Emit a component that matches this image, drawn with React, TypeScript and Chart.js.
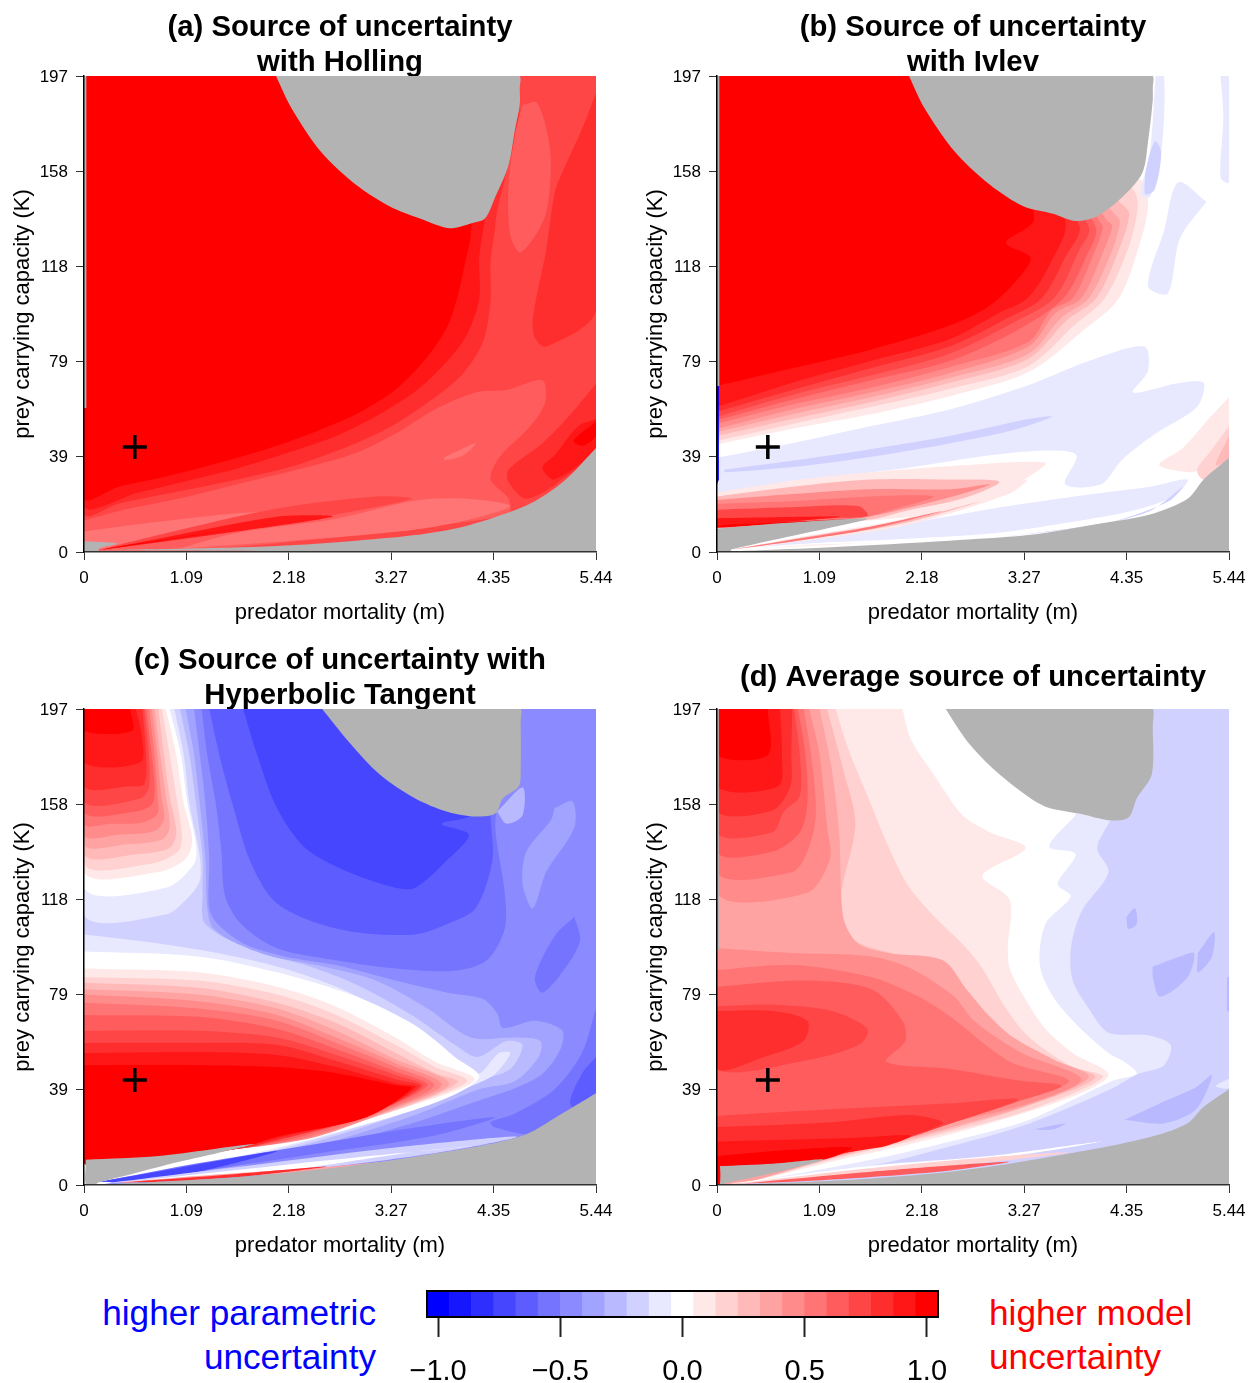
import React, { useEffect, useRef } from "react";
import { Chart, registerables } from "chart.js";

Chart.register(...registerables);

const FONT = "'Liberation Sans', Arial, sans-serif";
const GRAY = 99;
type Band = [number, number[]];

const xTickValues = [0, 1.088, 2.176, 3.264, 4.352, 5.44];
const xTickLabels = ["0", "1.09", "2.18", "3.27", "4.35", "5.44"];
const yTickValues = [0, 39.4, 78.8, 118.2, 157.6, 197];
const yTickLabels = ["0", "39", "79", "118", "158", "197"];
const scenario = { m: 0.54, K: 43.5 };
const colorbarLevels = [-11, -10, -9, -8, -7, -6, -5, -4, -3, -2, -1, 0, 1, 2, 3, 4, 5, 6, 7, 8, 9, 10, 11];
const colorbarTicks = [-1, -0.5, 0, 0.5, 1];

const holling: Band[] = [
  [8, [0, 197, 5.44, 197, 5.44, 0, 0, 0]],
  [7, [0, 13, 0.37, 17, 1, 22, 1.63, 28, 2.26, 34, 2.89, 41, 3.31, 49, 3.73, 59, 4.16, 66, 4.49, 67, 4.87, 71, 4.9, 62, 4.74, 52, 4.41, 39, 4.32, 30, 4.51, 22, 4.5, 15, 1, 0, 0, 0]],
  [6, [3.82, 39, 4.16, 45, 4.03, 40, 3.84, 38]],
  [9, [0, 197, 4.5, 197, 4.37, 135, 4.32, 120, 4.32, 104, 4.24, 87, 4.03, 74, 3.73, 64, 3.31, 53, 2.89, 45, 2.26, 36, 1.63, 30, 1, 25, 0.37, 20, 0, 16]],
  [10, [0, 197, 4.4, 197, 4.26, 138, 4.2, 122, 4.2, 105, 4.07, 90, 3.86, 79, 3.57, 68, 3.14, 57, 2.68, 48, 2.05, 39.6, 1.63, 34.6, 1.21, 30.5, 0.58, 24.6, 0, 19.6]],
  [11, [0, 197, 4.2, 197, 4.11, 131, 4.05, 120, 3.99, 109, 3.88, 95, 3.73, 85, 3.52, 75, 3.27, 66, 2.89, 57, 2.47, 50, 2.05, 44, 1.63, 39, 1.21, 34.6, 0.79, 30.5, 0.37, 27, 0, 22.5]],
  [9, [5.44, 190, 5.29, 175, 5.08, 157, 5, 148.6, 4.91, 125, 4.77, 97, 4.79, 88.7, 4.91, 85, 5.44, 100]],
  [7, [4.66, 185, 4.81, 186, 4.93, 172, 4.96, 158, 4.89, 138, 4.64, 124, 4.53, 131, 4.51, 151, 4.58, 173]],
  [9, [5.44, 69.6, 5.17, 57, 4.87, 45, 4.51, 34, 4.51, 29, 4.7, 22, 5.08, 30, 5.44, 43]],
  [10, [5.44, 55, 5.25, 52, 5, 40, 4.87, 35, 5, 30, 5.44, 43]],
  [11, [5.44, 54, 5.2, 46, 5.3, 44, 5.44, 48]],
  [6, [0, 8.5, 0.79, 12.5, 1.84, 16.3, 1.63, 11.3, 0.79, 5.5, 0.16, 0.8, 0, 1]],
  [6, [1, 1.3, 2.47, 5.5, 3.73, 10.5, 4.53, 18.8, 4.07, 22, 3.52, 21.3, 2.68, 13.8, 1.63, 8]],
  [8, [0.16, 0.8, 1.63, 8.5, 2.68, 15.5, 3.48, 22, 3.1, 23, 2.05, 18, 0.79, 7]],
  [10, [0.16, 0.8, 1.21, 6.3, 2.64, 14.6, 2.05, 14.6, 0.79, 5.5]],
  [11, [0.15, 0.8, 0.8, 4.5, 1.6, 9.5, 1, 6, 0.37, 2.3]],
  [GRAY, [2.04, 197, 2.2, 184, 2.51, 166, 2.89, 152, 3.25, 143, 3.57, 138, 3.88, 134, 4.11, 136, 4.26, 138, 4.37, 147, 4.51, 160, 4.58, 175, 4.63, 185, 4.63, 192, 4.63, 197, 4.5, 197, 2.2, 197]],
  [GRAY, [5.44, 43, 5.12, 30, 4.79, 21, 4.45, 15.5, 4.03, 10.5, 3.52, 7, 2.89, 4.7, 2.05, 2.5, 1, 1.3, 0.2, 0.7, 5.44, 0]],
  [GRAY, [0, 4.5, 0.36, 3.5, 0.16, 1.5, 0.15, 0, 0, 0]],
  [GRAY, [0, 197, 0.025, 197, 0.025, 59.6, 0, 59.6]],
];

const ivlev: Band[] = [
  [0, [0, 197, 5.44, 197, 5.44, 0, 0, 0]],
  [-1, [0, 39, 0.8, 45, 1.63, 52, 2.47, 59, 3.31, 69, 3.95, 79, 4.54, 85, 4.58, 75, 4.42, 66, 4.92, 70, 5.17, 70, 5.1, 60, 4.66, 49, 4.3, 38, 4.08, 28, 3.7, 28, 3.82, 40, 3.53, 42, 2.9, 40, 2.05, 35, 1, 30, 0, 25]],
  [-2, [0.08, 34, 1.21, 40, 2.47, 48, 3.31, 55, 3.56, 56, 3.1, 50, 2.05, 42, 1, 36, 0.08, 33]],
  [1, [0, 44.6, 0.8, 51, 1.63, 57, 2.47, 64.5, 3.31, 74.5, 3.9, 92, 4.27, 105, 4.5, 128.6, 4.58, 143.6, 4.53, 153, 3, 197, 0, 197]],
  [2, [0, 46, 0.8, 53, 1.63, 60, 2.47, 67.5, 3.31, 77, 3.8, 94, 4.12, 105, 4.38, 127, 4.47, 143, 4.42, 150, 3, 197, 0, 197]],
  [3, [0, 48, 0.8, 55, 1.63, 62, 2.47, 70, 3.31, 80, 3.72, 96, 4.03, 105, 4.28, 126, 4.38, 140, 4.3, 144, 3, 197, 0, 197]],
  [4, [0, 49.6, 0.8, 57, 1.63, 64, 2.47, 72, 3.31, 82, 3.66, 97, 3.95, 105, 4.2, 125, 4.28, 137, 4.22, 140, 3, 197, 0, 197]],
  [5, [0, 51, 0.8, 59, 1.63, 66, 2.47, 74, 3.31, 85, 3.6, 99, 3.87, 105, 4.1, 124, 4.2, 135, 4.15, 137, 3, 197, 0, 197]],
  [6, [0, 53, 0.8, 61, 1.63, 68, 2.47, 76.5, 3.31, 87, 3.55, 100, 3.78, 105, 4, 123, 4.1, 134, 4.08, 136, 3, 197, 0, 197]],
  [7, [0, 54.6, 0.8, 63, 1.63, 71, 2.47, 79, 3.2, 92, 3.68, 105, 3.92, 122, 4.02, 135, 3, 197, 0, 197]],
  [8, [0, 56, 0.8, 65, 1.63, 73, 2.47, 82, 3.15, 95, 3.58, 105, 3.85, 125, 3.95, 134.5, 3, 197, 0, 197]],
  [9, [0, 58, 0.8, 67, 1.63, 76, 2.47, 85, 3.1, 97, 3.45, 105, 3.7, 122, 3.85, 135, 3, 197, 0, 197]],
  [10, [0, 60, 0.8, 70, 1.63, 79, 2.47, 88, 3, 99, 3.3, 105, 3.55, 120, 3.7, 137, 3, 197, 0, 197]],
  [11, [0, 68.7, 0.8, 76, 1.63, 83.7, 2.47, 93.7, 2.9, 102, 3.24, 115, 3.33, 122, 3.07, 128, 3.37, 138, 3, 197, 0, 197]],
  [1, [0, 24.6, 0.8, 29.6, 1.63, 33, 2.47, 35.5, 3.49, 37, 3.31, 31, 2.9, 22, 2.31, 16, 1.63, 13, 0, 9.6]],
  [3, [0, 23, 0.8, 27, 1.63, 30, 2.47, 30, 3, 29, 2.6, 22, 2, 17, 1.63, 13.5, 0.5, 11, 0, 10]],
  [5, [0, 21.5, 0.8, 24, 1.63, 26, 2.5, 26, 2.9, 28, 2.6, 24, 2, 18, 1.5, 14, 0, 10.5]],
  [6, [0, 20, 0.8, 21, 1.63, 23, 2.3, 23, 1.9, 18, 1.5, 14, 0, 11]],
  [8, [0, 17.5, 0.8, 18.5, 1.5, 19, 1.6, 15, 1.2, 14, 0, 11]],
  [10, [0, 14, 0.8, 14.5, 1.3, 14.5, 0, 11]],
  [11, [0, 10, 0.6, 11.5, 1.4, 13.5, 0.5, 12, 0, 11]],
  [-1, [0.4, 2, 1.2, 7, 2.2, 13, 3.1, 19, 4, 24, 4.6, 27, 5, 30, 4.85, 23, 4.4, 17, 3.7, 12, 3, 8, 2, 5.5, 1.2, 4]],
  [1, [0.16, 1, 1, 7, 2, 14, 3, 26, 3.3, 30, 3.1, 24, 2, 11, 1, 5]],
  [3, [0.16, 1, 1, 6.6, 2, 13, 2.8, 21, 2, 12, 1, 5.5]],
  [6, [0.16, 1, 1, 6.3, 1.63, 10.5, 2.4, 17, 1.63, 9.5, 1, 5.5]],
  [1, [0.5, 1.5, 1.5, 3.5, 2.1, 4, 1, 3]],
  [-2, [3, 6, 4, 11, 4.6, 17, 4.95, 27, 4.8, 21, 4.2, 12.5, 3.5, 8.5]],
  [1, [5.44, 64, 5.2, 54, 4.95, 43, 4.7, 36, 5.05, 33, 5.2, 36, 5.44, 39]],
  [2, [5.44, 52, 5.25, 42, 5.1, 34, 5.17, 30, 5.44, 39]],
  [3, [5.44, 48, 5.3, 36, 5.44, 39]],
  [-1, [4.66, 197, 4.75, 197, 4.72, 165, 4.6, 147, 4.5, 148, 4.6, 165]],
  [-2, [4.55, 157, 4.6, 165, 4.66, 170, 4.72, 165, 4.65, 150, 4.55, 148]],
  [-1, [5.2, 145, 4.9, 153, 4.75, 133, 4.58, 110, 4.79, 107, 4.92, 130]],
  [-1, [5.35, 197, 5.44, 197, 5.44, 153, 5.35, 155, 5.38, 180]],
  [GRAY, [2.04, 197, 2.2, 184, 2.52, 166, 2.9, 152, 3.26, 143, 3.57, 140, 3.81, 137, 4.04, 139, 4.31, 147, 4.52, 157, 4.58, 170, 4.63, 187, 4.63, 192, 4.63, 197, 4.5, 197, 2.2, 197]],
  [GRAY, [5.44, 39, 5.17, 30, 5, 22, 4.6, 15.5, 3.95, 11, 3.31, 7, 2.47, 4.7, 1.21, 2, 0.3, 0.5, 0.15, 0, 5.44, 0]],
  [GRAY, [0, 9.6, 0.71, 12, 1.6, 14, 1.55, 13, 0.15, 1, 0.15, 0, 0, 0]],
  [GRAY, [0, 197, 0.025, 197, 0.025, 68.7, 0, 68.7]],
  [-11, [0, 68.7, 0.02, 68.7, 0.02, 30, 0, 28]],
];

const hyperbolic: Band[] = [
  [-5, [0, 197, 5.44, 197, 5.44, 0, 0, 0]],
  [-6, [1.25, 197, 1.31, 178, 1.4, 158, 1.46, 138, 1.5, 119.5, 1.67, 108, 2.05, 98, 2.68, 93, 3.31, 89.6, 3.94, 88.7, 4.28, 93, 4.47, 106, 4.47, 121, 4.37, 148, 4.42, 165, 4.45, 197]],
  [-7, [1.33, 197, 1.46, 174.5, 1.59, 156, 1.76, 134.5, 2.01, 118, 2.39, 109.6, 2.89, 104.6, 3.52, 103.7, 3.86, 108, 4.16, 114.5, 4.34, 134.5, 4.32, 153, 4.35, 175, 4.35, 197]],
  [-8, [1.69, 197, 1.84, 178, 2.05, 156, 2.35, 139.5, 2.81, 129.5, 3.31, 123, 3.52, 123, 3.86, 134.5, 4.09, 145, 3.8, 149.5, 4.16, 154.5, 4.2, 197]],
  [-4, [5, 156, 5.19, 158.7, 5.21, 148, 4.91, 129.5, 4.77, 114.5, 4.66, 124.5, 4.7, 138, 4.96, 151]],
  [-3, [4.39, 154.5, 4.66, 164.5, 4.66, 153, 4.49, 149.5]],
  [-6, [5.21, 111, 5.27, 101, 5.08, 88, 4.87, 79.6, 4.79, 86, 5, 103]],
  [-6, [5.44, 73, 5.29, 54.6, 5, 39.6, 4.58, 29.6, 4.32, 26, 4.37, 23.8, 4.79, 21, 5.44, 30]],
  [-7, [5.44, 53, 5.29, 46, 5.17, 33, 5.44, 30]],
  [-4, [1.17, 197, 1.23, 178, 1.29, 158, 1.33, 135, 1.33, 114.5, 1.42, 108, 1.71, 99.6, 2.13, 94.6, 2.68, 91, 3.31, 84.6, 3.86, 79.6, 4.24, 77, 4.39, 71, 4.45, 65, 4.79, 68, 5.08, 64, 5.06, 56, 4.87, 46, 4.58, 40, 4.2, 35, 3.52, 26, 2.47, 14.6, 1.21, 4.7, 0.1, 0, 0, 0, 0, 197]],
  [-3, [1.08, 197, 1.17, 178, 1.23, 158, 1.29, 135, 1.31, 114.5, 1.38, 106, 1.84, 96, 2.47, 91, 3.1, 84.6, 3.65, 73, 4.11, 61, 4.58, 61, 4.85, 59.6, 4.83, 53, 4.58, 43, 4.2, 39.6, 3.52, 29, 2.47, 16.3, 1.21, 5.5, 0.1, 0, 0, 0, 0, 197]],
  [-2, [1.02, 197, 1.12, 178, 1.19, 158, 1.26, 135, 1.26, 121, 1.29, 108, 1.8, 97, 2.39, 90.5, 2.89, 83, 3.48, 70.4, 3.94, 58, 4.18, 53, 4.49, 59.6, 4.66, 58, 4.53, 48, 4.18, 43, 3.52, 31.3, 2.47, 18, 1.21, 6.3, 0.1, 0, 0, 0, 0, 197]],
  [-1, [0.96, 197, 1.06, 178, 1.12, 158, 1.23, 136, 1.23, 126, 1.12, 119.5, 0.87, 112, 0, 112, 0, 197]],
  [-1, [0, 103.7, 0.79, 100, 1.42, 96, 2.05, 90.4, 2.68, 82, 3.31, 69.6, 3.82, 56, 4.18, 46, 4.41, 54.6, 4.53, 54.6, 4.37, 46, 4.18, 42, 3.52, 32, 2.47, 19, 1.21, 7, 0.1, 0, 0, 0]],
  [0, [0.91, 197, 1.03, 178, 1.1, 158, 1.19, 141, 1.17, 133, 0.87, 123, 0, 123, 0, 197]],
  [0, [0, 96.6, 1.21, 94.6, 2.05, 88, 2.89, 78, 3.52, 66, 3.94, 53, 4.2, 44.6, 3.73, 34, 2.47, 19.6, 1.21, 8, 0.15, 0, 0, 0]],
  [1, [0.87, 197, 0.98, 178, 1.06, 158, 1.15, 143, 1.08, 135, 0.79, 129.5, 0, 129.5, 0, 197]],
  [2, [0.83, 197, 0.91, 178, 0.98, 161, 1.04, 144.5, 1, 138, 0.71, 133, 0, 133, 0, 197]],
  [3, [0.79, 197, 0.85, 178, 0.91, 161, 0.98, 146, 0.91, 139.5, 0.58, 137, 0, 137, 0, 197]],
  [4, [0.75, 197, 0.81, 178, 0.87, 161, 0.91, 148, 0.83, 143, 0.45, 141, 0, 141, 0, 197]],
  [5, [0.72, 197, 0.78, 178, 0.82, 161, 0.85, 151.5, 0.75, 146.5, 0.37, 145, 0, 145, 0, 197]],
  [6, [0.69, 197, 0.75, 178, 0.78, 161, 0.78, 153.5, 0.62, 150, 0.28, 149.5, 0, 149.5, 0, 197]],
  [7, [0.66, 197, 0.72, 178, 0.75, 164.5, 0.72, 157.5, 0.53, 154.5, 0, 154.5, 0, 197]],
  [8, [0.64, 197, 0.69, 178, 0.69, 164.5, 0.6, 160, 0, 158.7, 0, 197]],
  [9, [0.62, 197, 0.66, 178, 0.64, 166, 0.49, 165, 0, 165, 0, 197]],
  [10, [0.55, 197, 0.61, 187, 0.6, 175, 0, 175, 0, 197]],
  [11, [0.49, 197, 0.51, 188, 0, 188, 0, 197]],
  [1, [0, 89.6, 1.21, 88, 2.05, 82, 2.68, 73.8, 3.31, 61, 3.73, 51, 4.15, 43.8, 3.73, 36, 2.47, 22, 1.63, 15, 0, 9]],
  [2, [0, 86, 1.21, 84.6, 2.05, 78.8, 2.68, 70.4, 3.31, 58, 3.73, 48.8, 4.07, 43, 3.52, 33.8, 2.47, 21.3, 1.63, 15, 0, 9]],
  [3, [0, 83.7, 1.21, 81.6, 2.05, 75.4, 2.68, 67, 3.31, 54.6, 3.73, 46.3, 3.97, 42.6, 3.48, 33.3, 2.47, 21, 1.63, 15, 0, 9]],
  [4, [0, 81, 1.21, 78.8, 2.05, 73, 2.68, 63.8, 3.31, 52, 3.88, 42, 3.4, 33, 2.47, 20.6, 1.63, 15, 0, 9]],
  [5, [0, 78.8, 1.21, 76, 2.05, 70.4, 2.68, 61, 3.31, 50.4, 3.8, 41.6, 3.3, 32, 2.47, 20, 1.63, 15, 0, 9]],
  [6, [0, 75.4, 1.21, 73, 2.05, 68, 2.68, 58.8, 3.31, 48.8, 3.72, 41.3, 3.2, 31, 2.4, 20, 1.63, 15, 0, 9]],
  [7, [0, 70.4, 1.21, 69.6, 2.05, 64.6, 2.68, 56.3, 3.31, 47, 3.65, 41.3, 3.1, 30.5, 2.3, 20, 1.63, 15, 0, 9]],
  [8, [0, 63.8, 1.21, 63.8, 2.05, 61, 2.68, 53.8, 3.31, 45.5, 3.6, 41, 3.05, 29.6, 2.2, 20.5, 1.63, 15, 0, 9]],
  [9, [0, 58.8, 1.21, 58.8, 2.05, 58, 2.68, 51.3, 3.31, 43.8, 3.57, 40.8, 3, 28.8, 2.2, 20, 1.63, 15, 0, 9]],
  [10, [0, 54.6, 1.21, 55, 2.05, 53.8, 2.68, 48.8, 3.31, 42, 3.52, 40.5, 3, 28.3, 2.1, 20, 1.6, 15, 0, 9]],
  [11, [0, 49.6, 1.21, 49.6, 2.05, 48.8, 2.68, 46.3, 3.31, 41.3, 3.48, 40, 3, 28, 2.05, 20, 1.6, 15, 0, 9]],
  [-6, [0.16, 1.3, 1.21, 9, 2.47, 17, 3.52, 23.8, 4.37, 28, 3.73, 20.5, 2.47, 13, 1.21, 5.5, 0.37, 1.3]],
  [-8, [0.16, 1.3, 1.21, 8.5, 2.05, 14, 1.21, 5.5, 0.37, 1.3]],
  [-2, [0.3, 1, 2.05, 9.5, 3.31, 15.5, 4.6, 20, 3.7, 13, 2.05, 5, 0.7, 1.3]],
  [0, [0.37, 1, 2.05, 8, 3.31, 13, 4.37, 17, 3.52, 13.8, 2.05, 5.5, 0.79, 1.7]],
  [4, [0.37, 1, 1.4, 4.3, 2.6, 7.6, 3.7, 11.5, 2.5, 5.5, 1.6, 3.5, 0.8, 1.5]],
  [9, [0.37, 1, 1.63, 4.6, 2.57, 7.6, 1.63, 3.3, 0.8, 1.3]],
  [GRAY, [2.53, 197, 2.81, 183.6, 3.14, 170, 3.52, 160, 3.86, 154.5, 4.16, 152.5, 4.37, 153.7, 4.45, 160, 4.62, 165, 4.64, 173, 4.64, 192, 4.64, 197, 4.5, 197, 2.7, 197]],
  [GRAY, [5.44, 38, 5.08, 29.6, 4.7, 21, 4.32, 17, 3.73, 13, 3.31, 10.5, 2.47, 6.3, 1.63, 3.3, 0.79, 1.3, 0.15, 0, 5.44, 0]],
  [GRAY, [0.02, 10.5, 0.79, 12, 1.8, 17, 1.5, 14, 1, 9.5, 0.5, 4.5, 0.15, 1, 0.12, 0, 0.02, 0]],
];

const average: Band[] = [
  [-2, [0, 197, 5.44, 197, 5.44, 0, 0, 0]],
  [-3, [4.63, 90.4, 4.92, 94.6, 5.07, 96, 5, 86, 4.71, 78, 4.63, 86]],
  [-3, [5.11, 96, 5.28, 104.6, 5.26, 94.6, 5.11, 88]],
  [-3, [4.35, 111, 4.44, 114.5, 4.46, 108, 4.37, 106]],
  [-3, [4.33, 27, 4.75, 34.6, 5.09, 40.5, 5.26, 45.5, 5.09, 31.3, 4.75, 25.5]],
  [-3, [3.36, 23, 3.7, 25.5, 3.57, 23]],
  [-3, [5.42, 86, 5.44, 86, 5.44, 72, 5.42, 72]],
  [-1, [5.44, 44, 5.3, 41, 5.44, 40]],
  [-1, [4.18, 151, 4.04, 139.5, 4.16, 129.5, 3.87, 113, 3.76, 98, 3.78, 84.6, 3.95, 73, 4.16, 63, 4.58, 62, 4.82, 58, 4.75, 49.6, 4.48, 46, 4.18, 39.6, 3.32, 25.5, 2.48, 16, 1.64, 8, 0.15, 0, 0, 0, 0, 197, 4.1, 197]],
  [0, [3.81, 153, 3.53, 140, 3.81, 137, 3.62, 124.5, 3.76, 119.5, 3.49, 108, 3.43, 91, 3.57, 78, 3.83, 66, 4.16, 54.6, 4.35, 50.4, 4.46, 46, 4.2, 43, 3.32, 27, 2.48, 18, 1.64, 10.5, 0.15, 0, 0, 0, 0, 197, 3.7, 197]],
  [1, [1.97, 197, 2.06, 184.5, 2.31, 169.5, 2.61, 153, 2.9, 146, 3.28, 139.5, 2.82, 128, 3.11, 118, 3.09, 98, 3.11, 89.6, 3.26, 78, 3.49, 64.6, 3.78, 54.6, 4.16, 45.5, 3.74, 36, 2.48, 21, 1.22, 9.6, 0.2, 0, 0, 0, 0, 197]],
  [2, [1.26, 197, 1.39, 181, 1.6, 161, 1.81, 141, 2.02, 124.5, 2.31, 111, 2.61, 99.6, 2.82, 89.6, 3.07, 73, 3.32, 61, 3.74, 49.6, 4.1, 44.6, 3.32, 31, 2.48, 22, 1.22, 10.5, 0.2, 0, 0, 0, 0, 197]],
  [3, [1.17, 197, 1.34, 172, 1.47, 149.5, 1.32, 121, 1.34, 111, 1.47, 101, 1.85, 96, 2.4, 89.6, 2.65, 78, 2.9, 68, 3.15, 59.6, 3.57, 51, 4.02, 44.6, 3.32, 33, 2.48, 23, 1.22, 11, 0.2, 0, 0, 0, 0, 197]],
  [4, [1.09, 197, 1.22, 172, 1.3, 144.5, 1.32, 119.5, 1.36, 108, 1.51, 99.6, 1.81, 96, 2.4, 93, 2.65, 81, 2.9, 69.6, 3.15, 61, 3.57, 52, 3.95, 44.6, 3.32, 33.3, 2.48, 23.8, 1.22, 11.3, 0.2, 0, 0, 0, 0, 197]],
  [5, [0.98, 197, 1.09, 178, 1.17, 148, 1.2, 135, 0.96, 121, 0, 121, 0, 197]],
  [5, [0, 98, 0.8, 96, 1.64, 94.6, 2.06, 89.6, 2.52, 78, 2.73, 68, 3.24, 54.6, 3.87, 43.8, 3.32, 33.8, 2.48, 25.5, 1.64, 15.5, 0, 8]],
  [6, [0.92, 197, 1, 178, 1.05, 153, 0.96, 138, 0.8, 129.5, 0, 129.5, 0, 197]],
  [6, [0, 89, 0.8, 91, 1.64, 86, 2.14, 78, 2.48, 69.6, 3.11, 51, 3.74, 43, 3.11, 33.8, 2.48, 25.5, 1.64, 15.5, 0, 8]],
  [7, [0.86, 197, 0.94, 178, 0.96, 158, 0.88, 146, 0.59, 138, 0, 138, 0, 197]],
  [7, [0, 82, 0.92, 84.6, 1.64, 81, 1.97, 68, 2, 59.6, 1.8, 51, 2.48, 48, 3.24, 43, 3.66, 41, 3.2, 34.6, 2.48, 25.5, 1.64, 15.5, 0, 8]],
  [8, [0.82, 197, 0.88, 178, 0.88, 161, 0.71, 154.5, 0.59, 146, 0, 146, 0, 197]],
  [8, [0, 74, 0.59, 74.6, 1.22, 72, 1.6, 64.6, 1.51, 58, 0.88, 51, 0, 48]],
  [9, [0, 72, 0.59, 72, 0.96, 68, 0.92, 59.6, 0.5, 53, 0, 48]],
  [8, [0, 28.6, 1.22, 31.3, 2.48, 33.8, 3.2, 35.5, 2.48, 25.5, 1.64, 15.5, 0, 8]],
  [9, [0, 24, 1.22, 26, 2.06, 29, 2.4, 25.5, 1.64, 16.3, 0, 8]],
  [10, [0, 18, 0.8, 18.8, 1.47, 19.6, 2.06, 20.5, 1.72, 15.5, 0, 8]],
  [11, [0, 12, 0.8, 14.6, 1.43, 15.5, 1.13, 10.5, 0, 8]],
  [9, [0.8, 197, 0.79, 178, 0.78, 165, 0.59, 155, 0, 155, 0, 197]],
  [10, [0.67, 197, 0.69, 178, 0.65, 165, 0, 165, 0, 197]],
  [11, [0.54, 197, 0.54, 178, 0, 178, 0, 197]],
  [0, [0.12, 0.5, 1.64, 8, 2.9, 12, 4.08, 18, 3.32, 13, 2.06, 7, 0.8, 2]],
  [2, [0.2, 0.5, 1.64, 7, 2.9, 11.5, 3.74, 13.5, 2.9, 9.5, 1.64, 4.6, 0.8, 1.7]],
  [7, [0.25, 0.5, 1.64, 5.5, 3.1, 9.6, 2.48, 6, 1.64, 3.3, 0.8, 1.3]],
  [GRAY, [2.43, 197, 2.66, 183.6, 2.97, 171, 3.35, 159.5, 3.53, 156, 3.87, 153.5, 4.16, 151, 4.37, 152, 4.46, 160, 4.62, 170, 4.63, 190, 4.63, 197, 4.5, 197, 2.6, 197]],
  [GRAY, [5.44, 39.6, 5.17, 32.3, 5, 25.6, 4.67, 20.6, 4.16, 16, 3.74, 13, 3.11, 8.8, 2.48, 5.5, 1.64, 2.7, 0.8, 1, 0.15, 0, 5.44, 0]],
  [GRAY, [0.03, 7.8, 0.59, 8.8, 1.13, 10.6, 0.65, 5.5, 0.12, 1, 0.03, 0]],
  [11, [0, 8, 0.03, 8, 0.03, 0, 0, 0]],
  [GRAY, [0, 197, 0.02, 197, 0.02, 97, 0, 97]],
];

const panels: { title: string[]; bands: Band[]; left: number; top: number }[] = [
  { title: ["(a) Source of uncertainty", "with Holling"], bands: holling, left: 0, top: 0 },
  { title: ["(b) Source of uncertainty", "with Ivlev"], bands: ivlev, left: 633, top: 0 },
  { title: ["(c) Source of uncertainty with", "Hyperbolic Tangent"], bands: hyperbolic, left: 0, top: 633 },
  { title: ["(d) Average source of uncertainty"], bands: average, left: 633, top: 633 },
];

function colorOf(level: number): string {
  if (level === GRAY) return "#B3B3B3";
  const v = Math.round(255 * (1 - Math.abs(level) / 11));
  return level >= 0 ? `rgb(255,${v},${v})` : `rgb(${v},${v},255)`;
}

function toPoints(flat: number[]) {
  const pts: { x: number; y: number }[] = [];
  for (let i = 0; i < flat.length; i += 2) pts.push({ x: flat[i], y: flat[i + 1] });
  pts.push({ x: flat[0], y: flat[1] });
  return pts;
}

function makePanel(canvas: HTMLCanvasElement, p: (typeof panels)[number]) {
  const bandSets = p.bands.map(([level, flat], i) => ({
    type: "scatter" as const,
    data: toPoints(flat),
    showLine: true,
    fill: "shape",
    backgroundColor: colorOf(level),
    borderWidth: 0,
    pointRadius: 0,
    pointHoverRadius: 0,
    tension: i === 0 || level === -11 || (level === GRAY && flat.length <= 8) ? 0 : 0.3,
    order: -i,
  }));
  const marker = {
    type: "scatter" as const,
    data: [{ x: scenario.m, y: scenario.K }],
    showLine: false,
    pointStyle: "cross",
    pointRadius: 12,
    pointBorderWidth: 3.5,
    pointBorderColor: "#000",
    borderColor: "#000",
    order: -1000,
  };
  return new Chart(canvas, {
    type: "scatter",
    data: { datasets: [...bandSets, marker] as any },
    options: {
      animation: false,
      responsive: false,
      devicePixelRatio: 1,
      layout: { padding: { left: 0, right: 31, top: 0, bottom: 0 } },
      plugins: {
        legend: { display: false },
        tooltip: { enabled: false },
        title: {
          display: true,
          text: p.title,
          color: "#000",
          fullSize: false,
          font: { family: FONT, size: 29.3, weight: "bold", lineHeight: "35px" },
          padding: p.title.length === 2 ? { top: 10, bottom: -4 } : { top: 27.5, bottom: 13.5 },
        } as any,
      },
      scales: {
        x: {
          type: "linear",
          min: 0,
          max: 5.44,
          afterBuildTicks: (s: any) => { s.ticks = xTickValues.map((value) => ({ value })); },
          afterFit: (s: any) => { s.height = 80; },
          ticks: { autoSkip: false, maxRotation: 0, color: "#000", padding: 8, font: { family: FONT, size: 17 }, callback: (_v: any, i: number) => xTickLabels[i] },
          grid: { drawOnChartArea: false, drawTicks: true, tickLength: 8, tickColor: "#333", tickWidth: 1, z: 1 },
          border: { display: true, color: "#333", width: 1.5, z: 1 },
          title: { display: true, text: "predator mortality (m)", color: "#000", font: { family: FONT, size: 22, lineHeight: 1.2 }, padding: { top: 0, bottom: 6 } },
        },
        y: {
          type: "linear",
          min: 0,
          max: 197,
          afterBuildTicks: (s: any) => { s.ticks = yTickValues.map((value) => ({ value })); },
          afterFit: (s: any) => { s.width = 84; },
          ticks: { autoSkip: false, maxRotation: 0, color: "#000", padding: 8, labelOffset: 1, font: { family: FONT, size: 17 }, callback: (_v: any, i: number) => yTickLabels[i] },
          grid: { drawOnChartArea: false, drawTicks: true, tickLength: 8, tickColor: "#333", tickWidth: 1, z: 1 },
          border: { display: true, color: "#000", width: 1.5, z: 1 },
          title: { display: true, text: "prey carrying capacity (K)", color: "#000", font: { family: FONT, size: 22, lineHeight: 1.2 }, padding: { top: 10, bottom: 0 } },
        },
      },
    } as any,
  });
}

const frame = {
  id: "frame",
  afterDatasetsDraw(chart: any) {
    const { ctx, chartArea: a } = chart;
    ctx.save();
    ctx.strokeStyle = "#000";
    ctx.lineWidth = 2;
    ctx.strokeRect(a.left, a.top, a.right - a.left, a.bottom - a.top);
    ctx.restore();
  },
};

function makeColorbar(canvas: HTMLCanvasElement) {
  return new Chart(canvas, {
    type: "bar",
    data: {
      datasets: [{
        data: colorbarLevels.map((l) => ({ x: l / 11, y: 1 })),
        backgroundColor: colorbarLevels.map(colorOf),
        borderWidth: 0,
        barPercentage: 1,
        categoryPercentage: 1,
      }],
    } as any,
    options: {
      animation: false,
      responsive: false,
      devicePixelRatio: 1,
      layout: { padding: { left: 27, right: 22, top: 21, bottom: 0 } },
      plugins: { legend: { display: false }, tooltip: { enabled: false }, title: { display: false } },
      scales: {
        x: {
          type: "linear",
          offset: false,
          min: -11.5 / 11,
          max: 11.5 / 11,
          afterBuildTicks: (s: any) => { s.ticks = colorbarTicks.map((value) => ({ value })); },
          afterFit: (s: any) => { s.height = 66; s.paddingLeft = 0; s.paddingRight = 0; },
          ticks: {
            autoSkip: false, maxRotation: 0, color: "#000", padding: 18,
            font: { family: FONT, size: 29 },
            callback: (v: any) => (v < 0 ? "\u2212" + (-v).toFixed(1) : v.toFixed(1)),
          },
          grid: { offset: false, drawOnChartArea: false, drawTicks: true, tickLength: 20, tickColor: "#222", tickWidth: 2 },
          border: { display: false },
        },
        y: { type: "linear", min: 0, max: 1, display: false },
      },
    } as any,
    plugins: [frame],
  });
}

const legendText = { position: "absolute", font: `35.2px ${FONT}`, lineHeight: "44px", whiteSpace: "nowrap" } as const;

export default function App() {
  const refs = useRef<(HTMLCanvasElement | null)[]>([]);
  const barRef = useRef<HTMLCanvasElement | null>(null);
  useEffect(() => {
    const charts = panels.map((p, i) => makePanel(refs.current[i]!, p));
    charts.push(makeColorbar(barRef.current!));
    return () => charts.forEach((c) => c.destroy());
  }, []);
  return (
    <div style={{ position: "absolute", left: 0, top: 0, width: 1254, height: 1383, overflow: "hidden", background: "#fff" }}>
      {panels.map((p, i) => (
        <canvas
          key={p.title[0]}
          ref={(el) => { refs.current[i] = el; }}
          width={627}
          height={632}
          style={{ position: "absolute", left: p.left, top: p.top, display: "block" }}
        />
      ))}
      <canvas ref={barRef} width={560} height={113} style={{ position: "absolute", left: 400, top: 1270, display: "block" }} />
      <div style={{ ...legendText, right: 878, top: 1291, textAlign: "right", color: "#0000FF" }}>higher parametric<br />uncertainty</div>
      <div style={{ ...legendText, left: 989, top: 1291, textAlign: "left", color: "#FF0000" }}>higher model<br />uncertainty</div>
    </div>
  );
}
